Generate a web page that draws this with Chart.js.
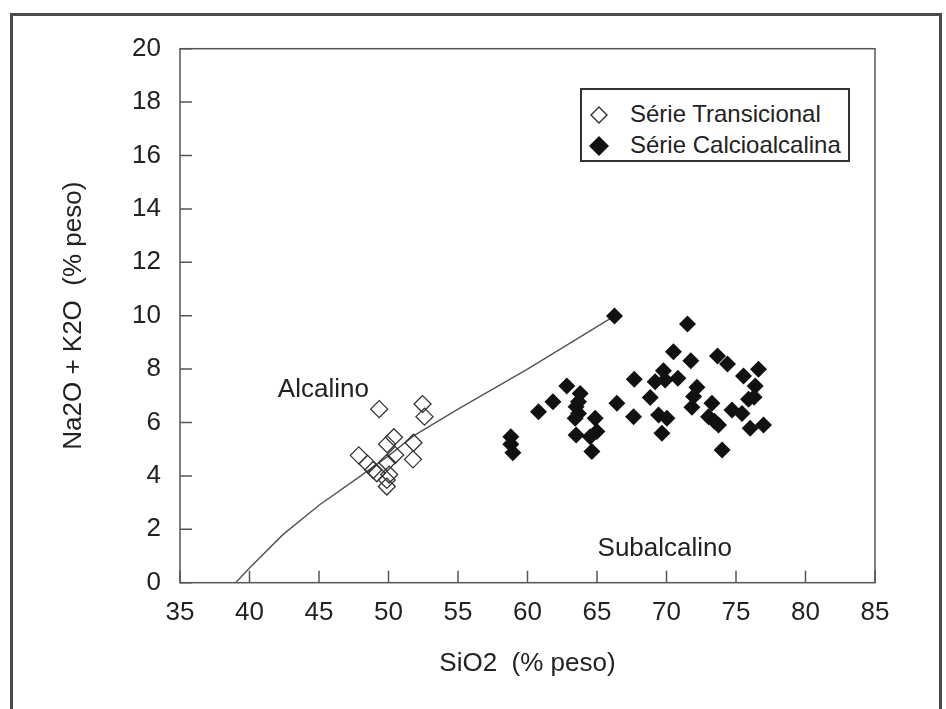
<!DOCTYPE html>
<html>
<head>
<meta charset="utf-8">
<script src="https://cdn.jsdelivr.net/npm/chart.js@4/dist/chart.umd.min.js"></script>
<style>
  html, body { margin: 0; padding: 0; background: #fff; }
  #wrap { position: relative; width: 946px; height: 709px; overflow: hidden; }
  #frame { position: absolute; left: 10px; top: 13px; width: 926px; height: 720px; border: 3px solid #4b4b4b; box-sizing: content-box; }
  #tas { position: absolute; left: 0; top: 0; }
  #legend { position: absolute; left: 580px; top: 88px; width: 266px; height: 70px; border: 2px solid #333; background: #fff;
    font-family: "Liberation Sans", Arial, sans-serif; font-size: 24px; color: #222; }
  .lg-row { position: absolute; left: 0; height: 30px; line-height: 30px; white-space: nowrap; }
  .lg-row svg { position: absolute; left: 6px; top: 5px; }
  .lg-row span { position: absolute; left: 48px; top: 0; }
</style>
</head>
<body>
<div id="wrap">
  <div id="frame"></div>
  <canvas id="tas" width="946" height="709"></canvas>
  <div id="legend">
    <div class="lg-row" style="top:9px;"><svg width="22" height="22"><polygon points="11,3 19,11 11,19 3,11" fill="#fff" stroke="#333" stroke-width="1.4"/></svg><span>Série Transicional</span></div>
    <div class="lg-row" style="top:40px;"><svg width="22" height="22"><polygon points="11,1 21,11 11,21 1,11" fill="#111"/></svg><span>Série Calcioalcalina</span></div>
  </div>
</div>
<script>
// Diagrama TAS - SiO2 x Na2O+K2O

var xTicks = [35, 40, 45, 50, 55, 60, 65, 70, 75, 80, 85];
var yTicks = [0, 2, 4, 6, 8, 10, 12, 14, 16, 18, 20];

// curva alcalino / subalcalino
var lineSiO2 = [39.0, 40.0, 42.4, 45.0, 48.0, 50.0, 51.8, 55.0, 60.0, 66.3];
var lineAlk  = [0.0, 0.55, 1.8, 2.9, 4.0, 4.75, 5.5, 6.5, 8.0, 10.0];

// Série Transicional
var transSiO2 = [49.33, 52.45, 52.59, 50.39, 49.90, 51.80, 47.86, 50.48, 51.76, 48.50, 49.90, 48.90, 49.16, 50.05, 49.88, 49.88];
var transAlk  = [6.50, 6.69, 6.22, 5.45, 5.19, 5.24, 4.77, 4.78, 4.62, 4.45, 4.50, 4.22, 4.10, 4.05, 3.85, 3.60];

// Série Calcioalcalina
var calcSiO2 = [66.26, 58.80, 58.80, 58.95, 60.79, 61.83, 62.83, 63.79, 63.67, 63.50, 63.67, 63.43, 63.50, 64.87, 64.99, 64.51,
                64.63, 66.43, 67.68, 67.63, 71.51, 70.50, 71.75, 73.67, 74.39, 76.62, 75.54, 69.78, 69.18, 69.90, 70.82, 72.19,
                76.38, 68.83, 71.95, 75.90, 76.30, 73.27, 71.83, 74.71, 75.43, 69.43, 70.03, 73.02, 73.45, 73.74, 76.02, 76.98,
                69.67, 74.00];
var calcAlk  = [9.99, 5.47, 5.19, 4.87, 6.40, 6.78, 7.37, 7.09, 6.78, 6.59, 6.34, 6.16, 5.53, 6.16, 5.66, 5.47,
                4.91, 6.72, 7.62, 6.22, 9.69, 8.65, 8.31, 8.49, 8.19, 7.99, 7.74, 7.94, 7.53, 7.59, 7.66, 7.32,
                7.37, 6.94, 6.97, 6.87, 6.95, 6.72, 6.57, 6.47, 6.34, 6.28, 6.16, 6.22, 6.05, 5.91, 5.78, 5.91,
                5.60, 4.97];

var fieldLabels = [
  { text: "Alcalino", x: 42.04, y: 6.97 },
  { text: "Subalcalino", x: 65.04, y: 1.0 }
];

function toPts(xs, ys) {
  var out = [];
  for (var i = 0; i < xs.length; i++) out.push({ x: xs[i], y: ys[i] });
  return out;
}

var FONT = "'Liberation Sans', Arial, sans-serif";
var TXT = "#222";

// caixa do gráfico, ticks para dentro e rótulos dos campos
var boxPlugin = {
  id: "tasBox",
  afterDraw: function(chart) {
    var ctx = chart.ctx, a = chart.chartArea;
    var sx = chart.scales.x, sy = chart.scales.y;
    ctx.save();
    ctx.strokeStyle = "#555";
    ctx.lineWidth = 1.5;
    ctx.strokeRect(a.left, a.top, a.right - a.left, a.bottom - a.top);
    ctx.beginPath();
    for (var i = 0; i < xTicks.length; i++) {
      var px = sx.getPixelForValue(xTicks[i]);
      ctx.moveTo(px, a.bottom);
      ctx.lineTo(px, a.bottom - 12);
    }
    for (var j = 0; j < yTicks.length; j++) {
      var py = sy.getPixelForValue(yTicks[j]);
      ctx.moveTo(a.left, py);
      ctx.lineTo(a.left + 12, py);
    }
    ctx.stroke();
    ctx.fillStyle = TXT;
    ctx.font = "26px " + FONT;
    ctx.textAlign = "left";
    ctx.textBaseline = "alphabetic";
    for (var k = 0; k < fieldLabels.length; k++) {
      var f = fieldLabels[k];
      ctx.fillText(f.text, sx.getPixelForValue(f.x), sy.getPixelForValue(f.y));
    }
    ctx.restore();
  }
};

new Chart(document.getElementById("tas"), {
  type: "scatter",
  data: {
    datasets: [
      {
        label: "limite",
        data: toPts(lineSiO2, lineAlk),
        showLine: true,
        borderColor: "#555",
        borderWidth: 1.4,
        pointRadius: 0,
        fill: false,
        tension: 0,
        order: 3
      },
      {
        label: "Série Transicional",
        data: toPts(transSiO2, transAlk),
        pointStyle: "rectRot",
        pointRadius: 8.5,
        backgroundColor: "rgba(255,255,255,0)",
        borderColor: "#333",
        borderWidth: 1.3,
        order: 2
      },
      {
        label: "Série Calcioalcalina",
        data: toPts(calcSiO2, calcAlk),
        pointStyle: "rectRot",
        pointRadius: 8.5,
        backgroundColor: "#111",
        borderColor: "#111",
        borderWidth: 0,
        order: 1
      }
    ]
  },
  options: {
    responsive: false,
    animation: false,
    events: [],
    layout: { padding: { left: 0, top: 48.7, right: 71, bottom: 0 } },
    plugins: { legend: { display: false }, tooltip: { enabled: false } },
    scales: {
      x: {
        type: "linear",
        min: 35, max: 85,
        afterBuildTicks: function(s) { s.ticks = xTicks.map(function(v) { return { value: v }; }); },
        afterFit: function(s) { s.height = 709 - 582.7; },
        grid: { display: false, drawTicks: false },
        border: { display: false },
        ticks: { color: TXT, font: { family: FONT, size: 26 }, padding: 15, maxRotation: 0 },
        title: { display: true, text: "SiO2  (% peso)", color: TXT, font: { family: FONT, size: 26 }, padding: { top: 0, bottom: 30 } }
      },
      y: {
        type: "linear",
        min: 0, max: 20,
        afterBuildTicks: function(s) { s.ticks = yTicks.map(function(v) { return { value: v }; }); },
        afterFit: function(s) { s.width = 180; },
        grid: { display: false, drawTicks: false },
        border: { display: false },
        ticks: { color: TXT, font: { family: FONT, size: 26 }, padding: 19 },
        title: { display: true, text: "Na2O + K2O  (% peso)", color: TXT, font: { family: FONT, size: 26 }, padding: { top: 58, bottom: 0 } }
      }
    }
  },
  plugins: [boxPlugin]
});
</script>
</body>
</html>
